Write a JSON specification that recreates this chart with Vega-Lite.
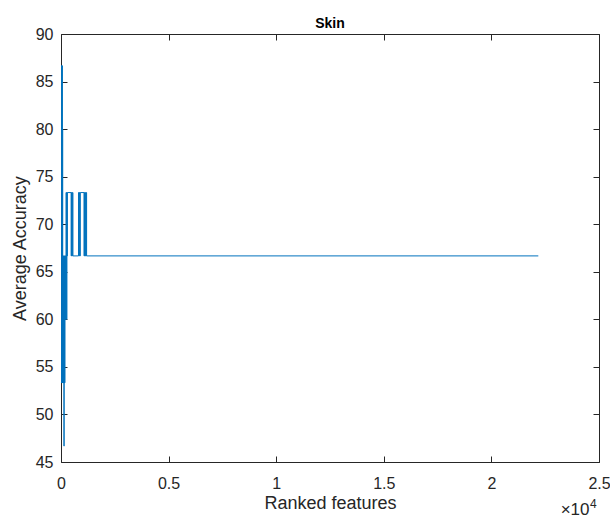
{
  "$schema": "https://vega.github.io/schema/vega-lite/v6.json",
  "width": 538,
  "height": 428,
  "autosize": {"type": "none"},
  "padding": {"left": 61, "top": 34, "right": 11, "bottom": 56},
  "background": "white",
  "title": {"text": "Skin", "font": "Liberation Sans", "fontSize": 14, "fontWeight": "bold", "color": "#000000", "offset": -5},
  "config": {
    "view": {"stroke": null},
    "axis": {
      "domainColor": "#262626",
      "domainWidth": 1,
      "tickColor": "#262626",
      "tickSize": -6,
      "tickWidth": 1,
      "grid": false,
      "labelFont": "Liberation Sans",
      "labelFontSize": 16,
      "labelColor": "#262626",
      "titleFont": "Liberation Sans",
      "titleFontSize": 18,
      "titleFontWeight": "normal",
      "titleColor": "#262626"
    }
  },
  "data": {
    "values": [
      {"feature": 1, "acc": 86.67},
      {"feature": 4, "acc": 73.33},
      {"feature": 7, "acc": 80},
      {"feature": 10, "acc": 60},
      {"feature": 13, "acc": 86.67},
      {"feature": 16, "acc": 66.67},
      {"feature": 19, "acc": 53.33},
      {"feature": 22, "acc": 80},
      {"feature": 25, "acc": 73.33},
      {"feature": 28, "acc": 60},
      {"feature": 31, "acc": 86.67},
      {"feature": 34, "acc": 66.67},
      {"feature": 37, "acc": 53.33},
      {"feature": 41, "acc": 73.33},
      {"feature": 45, "acc": 80},
      {"feature": 49, "acc": 60},
      {"feature": 53, "acc": 66.67},
      {"feature": 57, "acc": 86.67},
      {"feature": 61, "acc": 53.33},
      {"feature": 65, "acc": 73.33},
      {"feature": 69, "acc": 60},
      {"feature": 73, "acc": 80},
      {"feature": 77, "acc": 66.67},
      {"feature": 81, "acc": 53.33},
      {"feature": 86, "acc": 66.67},
      {"feature": 91, "acc": 60},
      {"feature": 96, "acc": 53.33},
      {"feature": 101, "acc": 66.67},
      {"feature": 106, "acc": 60},
      {"feature": 111, "acc": 53.33},
      {"feature": 116, "acc": 66.67},
      {"feature": 122, "acc": 53.33},
      {"feature": 128, "acc": 60},
      {"feature": 134, "acc": 53.33},
      {"feature": 140, "acc": 46.67},
      {"feature": 143, "acc": 53.33},
      {"feature": 148, "acc": 66.67},
      {"feature": 154, "acc": 60},
      {"feature": 160, "acc": 53.33},
      {"feature": 166, "acc": 66.67},
      {"feature": 172, "acc": 53.33},
      {"feature": 178, "acc": 60},
      {"feature": 184, "acc": 66.67},
      {"feature": 196, "acc": 60},
      {"feature": 210, "acc": 66.67},
      {"feature": 224, "acc": 60},
      {"feature": 236, "acc": 73.33},
      {"feature": 250, "acc": 66.67},
      {"feature": 262, "acc": 60},
      {"feature": 272, "acc": 73.33},
      {"feature": 282, "acc": 66.67},
      {"feature": 294, "acc": 73.33},
      {"feature": 470, "acc": 66.67},
      {"feature": 490, "acc": 73.33},
      {"feature": 510, "acc": 66.67},
      {"feature": 530, "acc": 73.33},
      {"feature": 555, "acc": 66.67},
      {"feature": 815, "acc": 73.33},
      {"feature": 835, "acc": 66.67},
      {"feature": 855, "acc": 73.33},
      {"feature": 880, "acc": 66.67},
      {"feature": 895, "acc": 73.33},
      {"feature": 1070, "acc": 66.67},
      {"feature": 1090, "acc": 73.33},
      {"feature": 1110, "acc": 66.67},
      {"feature": 1130, "acc": 73.33},
      {"feature": 1150, "acc": 66.67},
      {"feature": 1170, "acc": 73.33},
      {"feature": 1190, "acc": 66.67},
      {"feature": 22180, "acc": 66.67}
    ]
  },
  "layer": [
    {
      "mark": {"type": "line", "interpolate": "step-after", "color": "#0072BD", "strokeWidth": 1, "clip": true},
      "encoding": {
        "x": {
          "field": "feature", "type": "quantitative",
          "scale": {"domain": [0, 25000], "nice": false, "zero": false},
          "axis": {"orient": "bottom", "values": [0, 5000, 10000, 15000, 20000, 25000], "labelExpr": "datum.value / 10000", "labelPadding": 19, "title": "Ranked features", "titlePadding": 3, "labelFlush": false, "labelOverlap": false}
        },
        "y": {
          "field": "acc", "type": "quantitative",
          "scale": {"domain": [45, 90], "nice": false, "zero": false},
          "axis": {"orient": "left", "values": [45, 50, 55, 60, 65, 70, 75, 80, 85, 90], "labelPadding": 14, "title": "Average Accuracy", "titlePadding": 6, "labelFlush": false, "labelOverlap": false}
        }
      }
    },
    {
      "mark": {"type": "line", "opacity": 0},
      "encoding": {
        "x": {
          "field": "feature", "type": "quantitative",
          "scale": {"domain": [0, 25000], "nice": false, "zero": false},
          "axis": {"orient": "top", "values": [0, 5000, 10000, 15000, 20000, 25000], "labels": false, "title": null}
        },
        "y": {
          "field": "acc", "type": "quantitative",
          "scale": {"domain": [45, 90], "nice": false, "zero": false},
          "axis": {"orient": "right", "values": [45, 50, 55, 60, 65, 70, 75, 80, 85, 90], "labels": false, "title": null}
        }
      }
    },
    {
      "data": {"values": [{"x": 25000, "y": 45, "t": "×10"}]},
      "mark": {"type": "text", "align": "right", "baseline": "alphabetic", "dy": 53, "dx": -9.5, "font": "Liberation Sans", "fontSize": 17, "color": "#262626"},
      "encoding": {
        "x": {"field": "x", "type": "quantitative", "axis": null},
        "y": {"field": "y", "type": "quantitative", "axis": null},
        "text": {"field": "t"}
      }
    },
    {
      "data": {"values": [{"x": 25000, "y": 45, "t": "4"}]},
      "mark": {"type": "text", "align": "left", "baseline": "alphabetic", "dy": 46, "dx": -9, "font": "Liberation Sans", "fontSize": 12, "color": "#262626"},
      "encoding": {
        "x": {"field": "x", "type": "quantitative", "axis": null},
        "y": {"field": "y", "type": "quantitative", "axis": null},
        "text": {"field": "t"}
      }
    }
  ],
  "resolve": {"axis": {"x": "independent", "y": "independent"}}
}
